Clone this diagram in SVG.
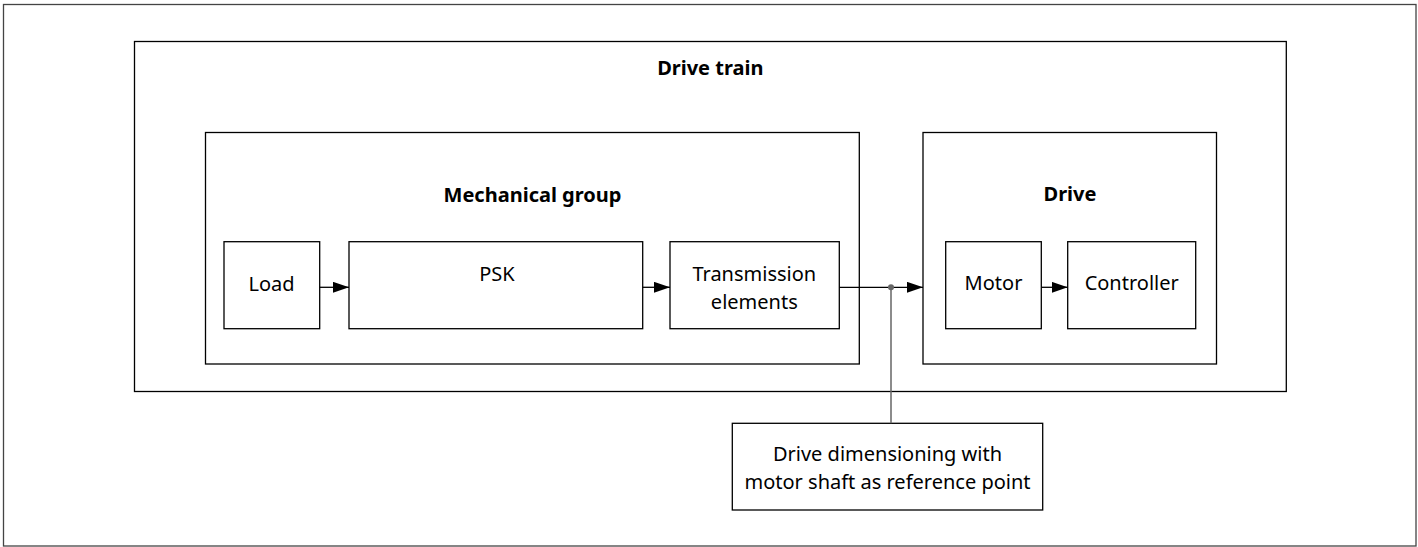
<svg xmlns="http://www.w3.org/2000/svg" width="1418" height="547" viewBox="0 0 1418 547">
<style>
.box{fill:#fff;stroke:#000;stroke-width:1.3}
.frame{fill:#fff;stroke:#444;stroke-width:1.3}
.t{font-family:"Noto Sans","Open Sans",sans-serif;font-size:20px;fill:#000;text-anchor:middle}
.b{font-weight:bold}
.c{stroke:#000;stroke-width:1.3;fill:none}
.g{stroke:#666;stroke-width:1.5;fill:none}
</style>
<defs>
<marker id="ah" markerUnits="userSpaceOnUse" markerWidth="16" markerHeight="11" refX="16" refY="5.5" orient="auto">
<path d="M0,0 L16,5.5 L0,11 z" fill="#000"/>
</marker>
</defs>
<rect class="frame" x="3.5" y="4.5" width="1412.5" height="541.5"/>
<g id="drive-train">
<rect class="box" x="134.5" y="41.5" width="1151.8" height="350"/>
<text class="t b" x="710.3" y="75">Drive train</text>
</g>
<g id="mechanical-group">
<rect class="box" x="205.5" y="132.5" width="653.8" height="231.5"/>
<text class="t b" x="532.5" y="201.5">Mechanical group</text>
</g>
<g id="drive">
<rect class="box" x="923" y="132.5" width="293.5" height="231.5"/>
<text class="t b" x="1070" y="200.7">Drive</text>
</g>
<g id="load">
<rect class="box" x="224" y="241.7" width="95.7" height="87"/>
<text class="t" x="271.5" y="290.7">Load</text>
</g>
<g id="psk">
<rect class="box" x="349" y="241.7" width="293.7" height="87"/>
<text class="t" x="497" y="280.7">PSK</text>
</g>
<g id="transmission">
<rect class="box" x="670" y="241.7" width="169.3" height="87"/>
<text class="t" x="754.3" y="280.7">Transmission</text>
<text class="t" x="754.3" y="309.3">elements</text>
</g>
<g id="motor">
<rect class="box" x="945.7" y="241.7" width="95.6" height="87"/>
<text class="t" x="993.5" y="290.3">Motor</text>
</g>
<g id="controller">
<rect class="box" x="1067.7" y="241.7" width="128" height="87"/>
<text class="t" x="1131.7" y="290.3">Controller</text>
</g>
<g id="dimensioning">
<rect class="box" x="732.3" y="423.3" width="310.4" height="86.7"/>
<text class="t" x="887.5" y="461">Drive dimensioning with</text>
<text class="t" x="887.5" y="489">motor shaft as reference point</text>
</g>
<g id="connectors">
<line class="c" x1="319.7" y1="287.3" x2="349" y2="287.3" marker-end="url(#ah)"/>
<line class="c" x1="642.7" y1="287.3" x2="670" y2="287.3" marker-end="url(#ah)"/>
<line class="c" x1="839.3" y1="287.3" x2="923" y2="287.3" marker-end="url(#ah)"/>
<line class="c" x1="1041.3" y1="287.3" x2="1067.7" y2="287.3" marker-end="url(#ah)"/>
<line class="g" x1="891" y1="287.3" x2="891" y2="423.3"/>
<circle cx="891" cy="287.3" r="3" fill="#666"/>
</g>
</svg>
